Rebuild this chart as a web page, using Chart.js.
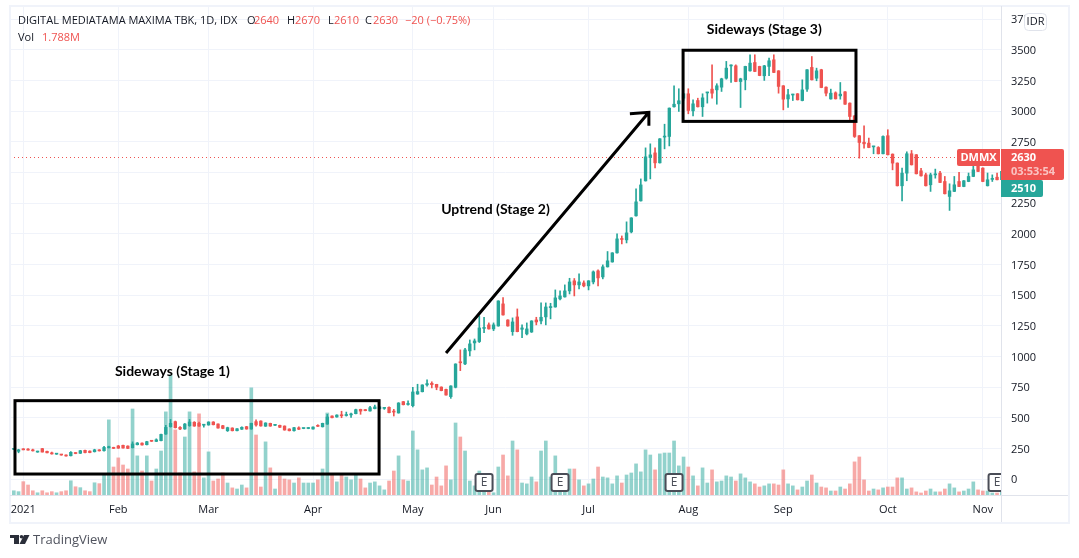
<!DOCTYPE html>
<html>
<head>
<meta charset="utf-8">
<title>DMMX</title>
<script src="https://cdn.jsdelivr.net/npm/chart.js@4"></script>
<style>
  html, body { margin: 0; padding: 0; background: #fff; }
  canvas { display: block; }
</style>
</head>
<body>
<canvas id="chart" width="1079" height="558"></canvas>
<script>
// daily candles
const open = [
  250,244,228,245,244,240,222,250,228,216, 205,200,198,192,215,212,236,230,225,240,
  233,258,260,272,277,271,258,282,295,282, 314,309,315,369,429,470,424,410,437,465,
  456,441,443,467,451,437,396,418,396,408, 429,410,470,475,433,456,440,440,434,410,
  396,420,414,414,410,435,428,450,516,508, 520,520,525,535,570,568,557,576,575,578,
  587,553,541,633,610,600,695,714,770,783, 774,752,733,674,750,955,941,1047,1112,1123,
  1230,1259,1226,1250,1430,1299,1204,1324,1223,1185, 1201,1299,1291,1324,1400,1405,1471,1487,1536,1618,
  1585,1601,1577,1609,1699,1650,1732,1772,1846,1960, 1952,2017,2148,2270,2433,2623,2661,2580,2790,2795,
  3037,3061,3107,3143,3004,3088,3037,3150,3181,3175, 3197,3270,3370,3371,3243,3257,3330,3398,3366,3290,
  3366,3420,3330,3208,3101,3133,3143,3088,3181,3358, 3270,3339,3197,3101,3151,3126,3159,3067,2963,2801,
  2748,2741,2710,2705,2654,2801,2651,2578,2393,2496, 2654,2646,2515,2482,2401,2482,2496,2428,2306,2347,
  2428,2387,2428,2469,2600,2537,2393,2445,2463,2443
];
const high = [
  252,250,245,250,250,246,230,252,230,222, 208,204,200,226,218,236,238,232,245,242,
  268,270,262,276,279,273,305,300,297,310, 316,330,368,440,488,475,430,455,488,470,
  467,446,469,470,453,440,425,420,414,428, 432,458,485,477,461,458,444,442,436,412,
  423,428,418,422,428,445,458,530,518,526, 555,548,540,572,572,570,595,605,592,585,
  590,570,625,635,640,750,775,771,810,795, 775,754,735,763,942,1055,1068,1136,1144,1332,
  1321,1275,1275,1456,1482,1301,1316,1389,1259,1275, 1293,1321,1438,1438,1435,1544,1536,1585,1639,1637,
  1675,1618,1620,1699,1707,1748,1857,1848,2001,1984, 2099,2133,2368,2449,2702,2735,2702,2778,2895,3028,
  3208,3184,3145,3184,3094,3107,3143,3156,3379,3225, 3270,3407,3379,3379,3270,3368,3461,3461,3368,3375,
  3434,3461,3332,3210,3180,3140,3145,3257,3341,3447, 3352,3343,3199,3181,3159,3235,3161,3069,2965,2803,
  2882,2782,2716,2712,2800,2850,2653,2580,2537,2670, 2681,2648,2535,2496,2496,2529,2510,2469,2409,2469,
  2502,2436,2497,2590,2605,2540,2497,2482,2496,2512
];
const low = [
  244,242,216,240,238,230,220,222,216,205, 203,196,188,190,208,210,216,216,222,230,
  230,255,250,252,253,250,255,280,278,280, 308,307,313,366,425,418,405,408,432,432,
  432,425,441,443,416,412,390,394,394,406, 408,408,434,433,431,432,438,422,400,394,
  392,405,412,412,408,430,426,448,500,506, 502,515,505,533,530,558,555,574,573,570,
  541,516,539,606,605,590,693,712,760,745, 730,721,685,660,745,886,935,1006,1055,1115,
  1196,1224,1212,1248,1338,1248,1174,1202,1155,1177, 1197,1259,1267,1259,1308,1403,1463,1485,1511,1495,
  1552,1569,1544,1593,1577,1634,1730,1770,1844,1919, 1927,2009,2146,2268,2431,2449,2539,2578,2694,2718,
  3034,2999,3090,2980,2963,3035,2958,3067,3107,3058, 3162,3262,3235,3241,3031,3175,3328,3323,3290,3252,
  3290,3315,3148,3012,3031,3088,3092,3085,3162,3255, 3249,3192,3125,3099,3100,3099,3056,2931,2787,2618,
  2700,2703,2654,2652,2652,2644,2523,2391,2270,2434, 2562,2489,2472,2391,2347,2455,2418,2326,2192,2345,
  2385,2385,2426,2467,2508,2426,2391,2428,2440,2441
];
const close = [
  246,248,240,240,238,232,228,222,216,207, 207,198,190,220,210,233,218,218,240,232,
  260,260,252,254,255,252,288,296,280,307, 310,322,366,423,456,421,410,451,467,434,
  434,445,467,445,418,415,421,396,412,424, 410,456,443,435,459,434,442,424,402,396,
  421,408,416,420,426,432,456,508,502,524, 518,522,528,568,556,560,584,590,590,583,
  543,548,622,608,615,712,715,769,780,772, 750,723,687,761,940,950,1055,1104,1128,1234,
  1236,1226,1259,1454,1340,1250,1283,1204,1234,1226, 1291,1283,1321,1405,1405,1479,1495,1536,1609,1585,
  1609,1577,1618,1691,1642,1732,1781,1846,1960,1955, 2009,2131,2262,2400,2629,2645,2580,2776,2795,3026,
  3058,3086,3143,3007,3061,3037,3110,3154,3148,3208, 3265,3352,3374,3243,3265,3366,3393,3325,3292,3371,
  3412,3317,3203,3099,3135,3138,3094,3175,3339,3257, 3330,3194,3148,3148,3102,3140,3058,2958,2795,2746,
  2735,2705,2715,2654,2795,2646,2578,2393,2496,2654, 2564,2491,2474,2393,2482,2490,2420,2328,2352,2401,
  2387,2434,2469,2523,2510,2428,2442,2450,2442,2510
];
// volume in millions of shares
const volume = [
  5.0,1.9,1.5,6.0,4.5,1.9,1.0,1.9,1.0,1.5, 1.0,1.5,1.9,6.4,3.7,3.3,1.9,1.5,5.5,5.1,
  9.0,33.8,12.6,16.7,13.5,11.7,38.7,17.6,10.8,17.6, 6.3,11.7,19.8,37.4,54.0,29.3,9.9,26.1,37.4,10.4,
  36.5,7.7,19.4,6.3,7.2,9.9,5.4,3.2,2.7,4.5, 3.2,48.2,27.0,3.6,23.9,12.2,2.7,8.6,7.2,6.8,
  5.4,7.7,5.4,5.4,5.4,6.8,11.7,36.9,9.0,5.9, 9.0,8.1,6.8,9.0,7.2,3.2,5.4,5.9,4.1,2.3,
  6.3,10.8,17.6,6.8,6.3,28.8,20.3,11.3,12.2,4.5, 8.1,4.1,13.1,6.8,32.4,26.1,19.8,6.3,4.1,10.8,
  3.6,3.6,1.0,12.6,18.0,8.6,24.3,20.3,5.4,5.0, 8.1,5.9,19.8,24.3,8.1,17.6,3.6,4.5,11.7,11.7,
  6.8,4.1,5.0,7.2,12.6,8.1,7.7,5.0,8.6,5.4, 9.0,9.9,14.0,10.4,20.3,18.0,11.3,18.5,18.9,18.9,
  24.3,13.1,17.1,12.6,8.6,4.1,12.2,5.4,11.3,5.9, 6.3,8.6,8.1,6.3,9.5,7.7,5.9,5.0,3.6,4.1,
  5.0,5.0,4.5,11.3,5.0,4.1,2.3,3.6,6.3,9.0, 5.4,3.6,3.2,1.8,1.8,3.6,2.7,5.0,14.9,17.1,
  6.8,1.8,2.7,2.3,3.2,3.6,3.6,7.7,7.7,2.7, 3.2,1.4,0.9,1.8,2.7,1.4,1.4,2.7,5.0,3.2,
  1.4,1.8,2.7,5.9,2.3,1.8,1.8,0.9,0.9,1.8
];

const priceTicks = [0,250,500,750,1000,1250,1500,1750,2000,2250,2500,2750,3000,3250,3500,3750];
const monthTicks = [3,23,42,64,85,102,122,143,163,185,205];
const monthLabels = ['2021','Feb','Mar','Apr','May','Jun','Jul','Aug','Sep','Oct','Nov'];
const earningsDays = [100,116,140,208];
const lastPrice = 2630;

const UP = '#26a69a', DOWN = '#ef5350';
const UP_VOL = 'rgba(38,166,154,0.5)', DOWN_VOL = 'rgba(239,83,80,0.5)';
const TEXT = '#131722', GRID = '#f0f3fa', AXIS = '#e0e3eb';
const FONT = '"Open Sans", sans-serif';

const days = close.map((c, i) => i);
const isUp = i => close[i] >= open[i];

function put(ctx, str, x, y, font, color, align) {
    ctx.font = font;
    ctx.fillStyle = color;
    ctx.textAlign = align || 'left';
    ctx.textBaseline = 'middle';
    ctx.fillText(str, x, y);
}

function rounded(ctx, x, y, w, h, r) {
    ctx.beginPath();
    ctx.roundRect(x, y, w, h, r);
}

// the hand drawn notes sit on the price/day scales
const notes = {
    id: 'notes',
    beforeDatasetsDraw(chart) {
        const { ctx, chartArea: a, scales: { y } } = chart;
        const py = Math.round(y.getPixelForValue(lastPrice)) + 0.5;
        ctx.save();
        ctx.strokeStyle = DOWN;
        ctx.lineWidth = 1;
        ctx.setLineDash([1, 3]);
        ctx.beginPath();
        ctx.moveTo(a.left, py);
        ctx.lineTo(a.right, py);
        ctx.stroke();
        ctx.restore();
    },
    afterDraw(chart) {
        const { ctx, chartArea: a, scales: { x, y } } = chart;
        const X = v => x.getPixelForValue(v), Y = v => y.getPixelForValue(v);
        ctx.save();

        // frame around the widget
        ctx.strokeStyle = GRID;
        ctx.lineWidth = 2;
        ctx.strokeRect(10, 6, 1059, 517);
        ctx.strokeStyle = AXIS;
        ctx.lineWidth = 1;
        ctx.beginPath();
        ctx.moveTo(a.right + 0.5, 6);
        ctx.lineTo(a.right + 0.5, 522);
        ctx.moveTo(10, a.bottom + 0.5);
        ctx.lineTo(1068, a.bottom + 0.5);
        ctx.stroke();

        // earnings flags, cut off at the price axis
        ctx.save();
        ctx.beginPath();
        ctx.rect(a.left, a.top, a.right - a.left, a.bottom - a.top);
        ctx.clip();
        earningsDays.forEach(d => {
            const cx = X(d);
            rounded(ctx, cx - 8.5, 474, 17, 17, 2);
            ctx.fillStyle = '#fff';
            ctx.fill();
            ctx.strokeStyle = '#4a4d57';
            ctx.lineWidth = 2;
            ctx.stroke();
            put(ctx, 'E', cx, 483, '12px ' + FONT, '#4a4d57', 'center');
        });
        ctx.restore();

        // boxes and arrow
        ctx.strokeStyle = '#000';
        ctx.lineWidth = 3;
        ctx.strokeRect(X(1.25), Y(641), X(77.9) - X(1.25), Y(43) - Y(641));
        ctx.strokeRect(X(141.9), Y(3498), X(178.3) - X(141.9), Y(2918) - Y(3498));
        ctx.beginPath();
        ctx.moveTo(X(92), Y(1030));
        ctx.lineTo(X(134.7), Y(2992));
        ctx.moveTo(X(130.7), Y(2980));
        ctx.lineTo(X(134.7), Y(2992));
        ctx.lineTo(X(134.7), Y(2882));
        ctx.stroke();

        const noteFont = 'bold 14px Lato, sans-serif';
        put(ctx, 'Sideways (Stage 1)', X(34.4), Y(883), noteFont, '#000', 'center');
        put(ctx, 'Uptrend (Stage 2)', X(102.4), Y(2197), noteFont, '#000', 'center');
        put(ctx, 'Sideways (Stage 3)', X(159), Y(3665), noteFont, '#000', 'center');

        // header
        const f = '11px ' + FONT;
        put(ctx, 'DIGITAL MEDIATAMA MAXIMA TBK, 1D, IDX', 18, 21, f, TEXT);
        [['O', 247, '2640', 254], ['H', 287, '2670', 295], ['L', 328, '2610', 334], ['C', 365, '2630', 373]]
            .forEach(r => {
                put(ctx, r[0], r[1], 21, f, TEXT);
                put(ctx, r[2], r[3], 21, f, DOWN);
            });
        put(ctx, '\u221220 (\u22120.75%)', 405, 21, f, DOWN);
        put(ctx, 'Vol', 18, 38, f, TEXT);
        put(ctx, '1.788M', 42, 38, f, DOWN);

        // currency badge over the top tick
        rounded(ctx, 1024.5, 13.5, 22, 17, 4);
        ctx.fillStyle = '#fff';
        ctx.fill();
        ctx.strokeStyle = AXIS;
        ctx.lineWidth = 1;
        ctx.stroke();
        put(ctx, 'IDR', 1035.5, 22, f, TEXT, 'center');

        // price tags
        ctx.fillStyle = DOWN;
        rounded(ctx, 957, 149, 43, 17, [2, 0, 0, 2]);
        ctx.fill();
        rounded(ctx, 1001, 149, 63, 31, [0, 2, 2, 0]);
        ctx.fill();
        ctx.fillStyle = UP;
        rounded(ctx, 1001, 180, 42, 17, [0, 2, 2, 0]);
        ctx.fill();
        const tag = 'bold 11px ' + FONT;
        put(ctx, 'DMMX', 978.5, 158, tag, '#fff', 'center');
        put(ctx, '2630', 1011, 158, tag, '#fff');
        put(ctx, '03:53:54', 1011, 172, tag, 'rgba(255,255,255,0.65)');
        put(ctx, '2510', 1011, 189, tag, '#fff');

        // footer logo and name
        ctx.fillStyle = '#2a2e39';
        ctx.fillRect(10, 535, 9, 3);
        ctx.fillRect(14, 535, 5, 9);
        ctx.beginPath();
        ctx.arc(21.5, 536.8, 1.8, 0, Math.PI * 2);
        ctx.fill();
        ctx.beginPath();
        ctx.moveTo(24, 535);
        ctx.lineTo(29.5, 535);
        ctx.lineTo(25, 544);
        ctx.lineTo(19.5, 544);
        ctx.fill();
        put(ctx, 'TradingView', 33, 540, '13px ' + FONT, '#50535e');
        ctx.restore();
    }
};

new Chart(document.getElementById('chart'), {
    data: {
        datasets: [
            {
                type: 'bar',
                yAxisID: 'yVol',
                order: 3,
                grouped: false,
                barThickness: 3,
                data: days.map(i => ({ x: i, y: volume[i] })),
                backgroundColor: days.map(i => isUp(i) ? UP_VOL : DOWN_VOL)
            },
            {
                type: 'bar',
                yAxisID: 'y',
                order: 2,
                grouped: false,
                barThickness: 1,
                data: days.map(i => ({ x: i, y: [low[i], high[i]] })),
                backgroundColor: days.map(i => isUp(i) ? UP : DOWN)
            },
            {
                type: 'bar',
                yAxisID: 'y',
                order: 1,
                grouped: false,
                barThickness: 2.7,
                minBarLength: 1,
                data: days.map(i => ({ x: i, y: [Math.min(open[i], close[i]), Math.max(open[i], close[i])] })),
                backgroundColor: days.map(i => isUp(i) ? UP : DOWN)
            }
        ]
    },
    options: {
        responsive: false,
        animation: false,
        events: [],
        layout: { padding: { left: 10, right: 10, top: 6, bottom: 35 } },
        plugins: { legend: { display: false }, tooltip: { enabled: false } },
        scales: {
            x: {
                type: 'linear',
                offset: false,
                min: 0.2,
                max: 208.83,
                afterBuildTicks: s => { s.ticks = monthTicks.map(v => ({ value: v })); },
                afterFit: s => { s.height = 28; s.paddingLeft = 0; s.paddingRight = 0; },
                grid: { color: GRID, drawTicks: false, offset: false },
                border: { display: false },
                ticks: {
                    autoSkip: false,
                    maxRotation: 0,
                    padding: 8,
                    color: TEXT,
                    font: { family: 'Open Sans', size: 11 },
                    callback: v => monthLabels[monthTicks.indexOf(v)]
                }
            },
            y: {
                position: 'right',
                min: -128,
                max: 3858.7,
                afterBuildTicks: s => { s.ticks = priceTicks.map(v => ({ value: v })); },
                afterFit: s => { s.width = 68; s.paddingTop = 0; s.paddingBottom = 0; },
                grid: { color: GRID, drawTicks: false },
                border: { display: false },
                ticks: {
                    padding: 10,
                    labelOffset: 1,
                    color: TEXT,
                    font: { family: 'Open Sans', size: 11 },
                    callback: v => String(v)
                }
            },
            yVol: {
                display: false,
                min: 0,
                max: 220,
                afterFit: s => { s.paddingTop = 0; s.paddingBottom = 0; }
            }
        }
    },
    plugins: [notes]
});
</script>
</body>
</html>
